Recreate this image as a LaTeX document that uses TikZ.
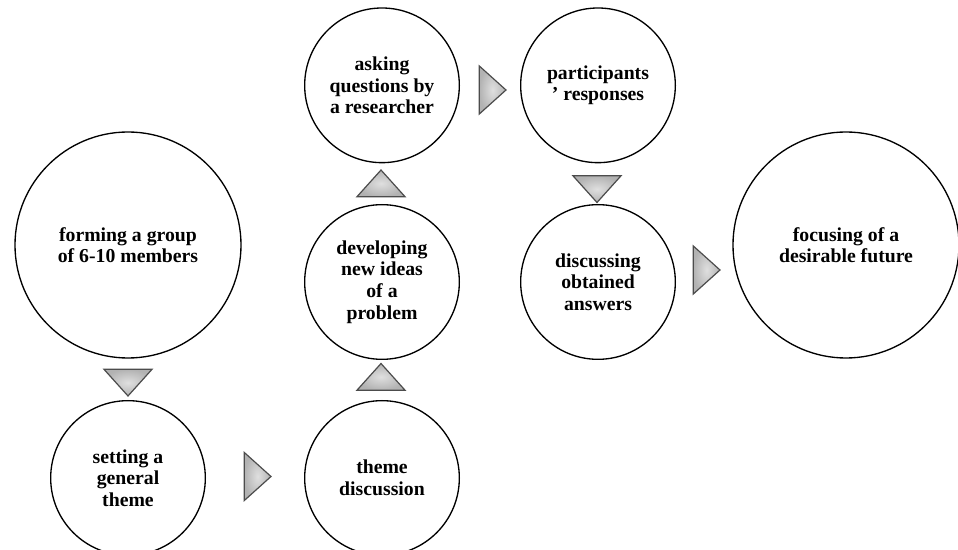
\documentclass[tikz,border=0pt]{standalone}
\usepackage{fontspec}
\setmainfont{Liberation Serif}
\usetikzlibrary{positioning, shapes.geometric}

\begin{document}
\begin{tikzpicture}[
    x=0.75pt, y=0.75pt,
    every node/.style={font=\bfseries\fontsize{14.8}{16.2}\selectfont},
    bigstage/.style={circle, draw=black, line width=1pt, fill=white, minimum size=169.5pt, inner sep=0pt, align=center},
    stage/.style={circle, draw=black, line width=1pt, fill=white, minimum size=116pt, inner sep=0pt, align=center},
    arrowtri/.style={isosceles triangle, isosceles triangle stretches, minimum width=36pt, minimum height=20pt, inner sep=0pt, draw=black!70, line width=0.9pt, inner color=gray!25, outer color=gray!60},
    downtri/.style={arrowtri, rotate=-90},
    uptri/.style={arrowtri, rotate=90},
]

\useasboundingbox (0,0) rectangle (958,550);

% Stages
\node[bigstage] (forming) at (128,305) {forming a group \\ of 6-10 members};
\node[stage, below=31pt of forming] (setting) {setting a \\ general \\ theme};
\node[stage, right=73.5pt of setting] (theme) {theme \\ discussion};
\node[stage, above=30pt of theme] (developing) {developing \\ new ideas \\ of a \\ problem};
\node[stage, above=30.5pt of developing] (asking) {asking \\ questions by \\ a researcher};
\node[stage, right=45pt of asking] (participants) {participants \\ ' responses};
\node[stage, below=30.5pt of participants] (discussing) {discussing \\ obtained \\ answers};
\node[bigstage] (focusing) at (846,305) {focusing of a \\ desirable future};

% Triangles
\node[downtri] (t1) at (128,170) {};
\node[arrowtri] (t2) at (255,73.5) {};
\node[uptri] (t3) at (381,170.5) {};
\node[uptri] (t4) at (381,364) {};
\node[arrowtri] (t5) at (490,460) {};
\node[downtri] (t6) at (597,363.5) {};
\node[arrowtri] (t7) at (704,280) {};

\end{tikzpicture}
\end{document}
